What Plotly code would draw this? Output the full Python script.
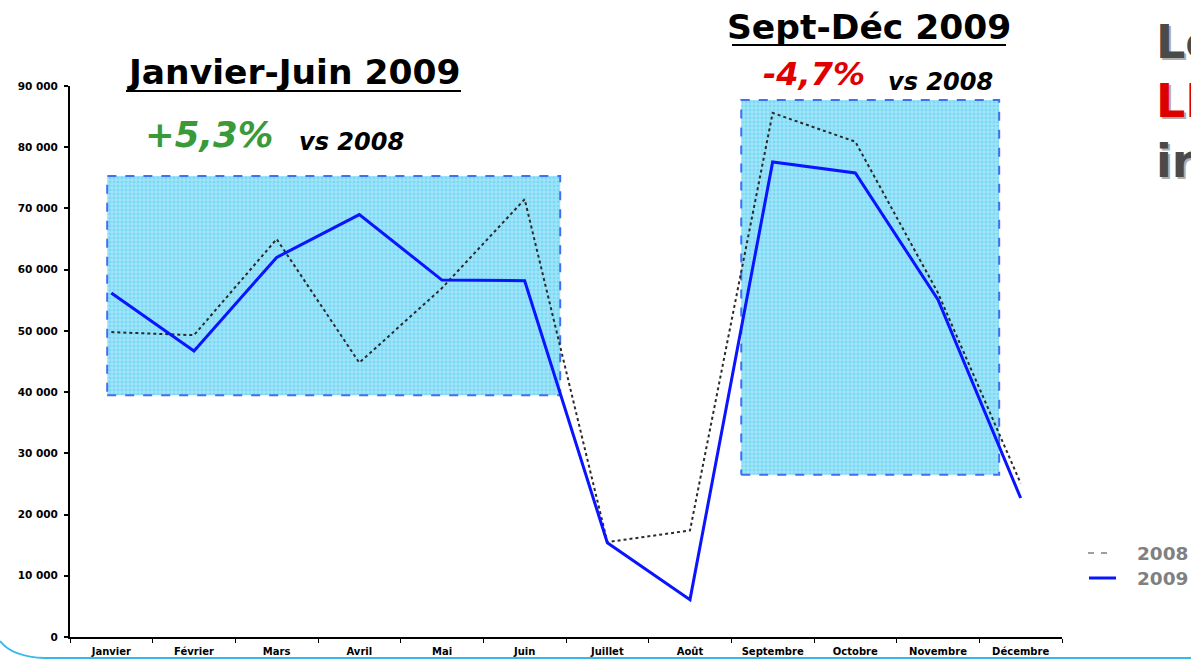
import plotly.graph_objects as go

months = ["Janvier", "Février", "Mars", "Avril", "Mai", "Juin", "Juillet",
          "Août", "Septembre", "Octobre", "Novembre", "Décembre"]
sales_2008 = [49800, 49300, 65000, 44800, 57000, 71500, 15500, 17400, 85600, 80900, 56200, 25100]
sales_2009 = [56200, 46700, 62000, 69000, 58300, 58200, 15400, 6100, 77600, 75800, 55100, 22700]
y_ticks = [0, 10000, 20000, 30000, 40000, 50000, 60000, 70000, 80000, 90000]
y_tick_labels = ["0", "10 000", "20 000", "30 000", "40 000", "50 000",
                 "60 000", "70 000", "80 000", "90 000"]

# highlighted periods (category-index span, value span)
box1_x = (-0.05, 5.43)
box1_y = (39500, 75300)
box2_x = (7.62, 10.74)
box2_y = (26500, 87700)

W, H = 1191, 660
PL, PR, PT, PB = 70, 1062, 86, 637  # plot area in window pixels
L, R, T, B = PL, W - PR, PT, H - PB
PW, PH = PR - PL, PB - PT


def px(x):
    return (x - PL) / PW


def py(y):
    return (PB - y) / PH


fig = go.Figure()

for bx, by in [(box1_x, box1_y), (box2_x, box2_y)]:
    fig.add_trace(go.Scatter(
        x=[bx[0], bx[1], bx[1], bx[0], bx[0]],
        y=[by[0], by[0], by[1], by[1], by[0]],
        mode="lines", fill="toself",
        fillcolor="#7fdbf6",
        fillpattern=dict(shape="+", bgcolor="#7cd9f6", fgcolor="#e2f8fe", size=4, solidity=0.4),
        line=dict(color="#3f6ff2", width=2, dash="dash"),
        hoverinfo="skip", showlegend=False))

idx = list(range(len(months)))
fig.add_trace(go.Scatter(x=idx, y=sales_2008, mode="lines", name="2008",
                         line=dict(color="#2a2a2a", width=2, dash="dot"),
                         showlegend=False))
fig.add_trace(go.Scatter(x=idx, y=sales_2009, mode="lines", name="2009",
                         line=dict(color="#0a14ff", width=3),
                         showlegend=False))

tfont = "DejaVu Sans"
ann = []


def add_text(text, x, y, size, color="black", italic=False, xanchor="center", family=tfont):
    ann.append(dict(text=text, x=px(x), y=py(y), xref="paper", yref="paper",
                    xanchor=xanchor, yanchor="middle", showarrow=False,
                    font=dict(family=family, size=size, color=color, weight="bold",
                              style="italic" if italic else "normal")))


add_text("Janvier-Juin 2009", 293.5, 72, 34.5)
add_text("+5,3%", 209, 134, 35.5, color="#3a9a3a", italic=True)
add_text("vs 2008", 351, 142, 24, italic=True)
add_text("Sept-Déc 2009", 869, 27, 34.5)
add_text("-4,7%", 814, 74, 32, color="#e00000", italic=True)
add_text("vs 2008", 940, 82, 24, italic=True)

# cut-off slide heading on the right (with shadow)
for txt, yy, col in [("Le", 42, "#4a4a4a"), ("LI", 101, "#dd0000"), ("ir", 161, "#4a4a4a")]:
    add_text(txt, 1156, yy + 2, 46, color="#b0b0b0", xanchor="left")
    add_text(txt, 1154, yy, 46, color=col, xanchor="left")

# legend
add_text("2008", 1135, 553, 18.5, color="#808080", xanchor="left")
add_text("2009", 1135, 578, 18.5, color="#808080", xanchor="left")

shapes = [
    dict(type="line", xref="paper", yref="paper", x0=px(126), x1=px(461), y0=py(91), y1=py(91),
         line=dict(color="black", width=2)),
    dict(type="line", xref="paper", yref="paper", x0=px(732), x1=px(1006), y0=py(45), y1=py(45),
         line=dict(color="black", width=2)),
    dict(type="line", xref="paper", yref="paper", x0=px(1088), x1=px(1110), y0=py(553), y1=py(553),
         line=dict(color="#808080", width=1.5, dash="6px,7px")),
    dict(type="line", xref="paper", yref="paper", x0=px(1089), x1=px(1116), y0=py(578), y1=py(578),
         line=dict(color="#0a14ff", width=3)),
    dict(type="path", xref="paper", yref="paper",
         path=f"M {px(0)},{py(641)} Q {px(12)},{py(657)} {px(45)},{py(658)} L {px(1191)},{py(658)}",
         line=dict(color="#35b9ea", width=2)),
]

fig.update_layout(
    width=W, height=H, margin=dict(l=L, r=R, t=T, b=B, autoexpand=False),
    plot_bgcolor="white", paper_bgcolor="white",
    annotations=ann, shapes=shapes, showlegend=False,
    xaxis=dict(range=[-0.5, 11.5], tickvals=idx, ticktext=months, ticks="",
               showline=True, linecolor="black", linewidth=2, showgrid=False, zeroline=False,
               automargin=False,
               tickfont=dict(family="DejaVu Sans", size=10, color="black", weight="bold"),
               ticklabelstandoff=4,
               minor=dict(tick0=-0.5, dtick=1, ticks="outside", ticklen=4, tickcolor="black",
                          tickwidth=1, showgrid=False)),
    yaxis=dict(range=[0, 90000], tickvals=y_ticks, ticktext=y_tick_labels,
               ticks="outside", ticklen=4, tickcolor="black", tickwidth=1.5,
               showline=True, linecolor="black", linewidth=2, showgrid=False, zeroline=False,
               automargin=False,
               tickfont=dict(family="DejaVu Sans", size=10.5, color="black", weight="bold"),
               ticklabelstandoff=4),
)

fig.write_html("out.html", config={"displayModeBar": False},
               post_script="document.body.style.margin='0px';document.body.style.overflow='hidden';")
